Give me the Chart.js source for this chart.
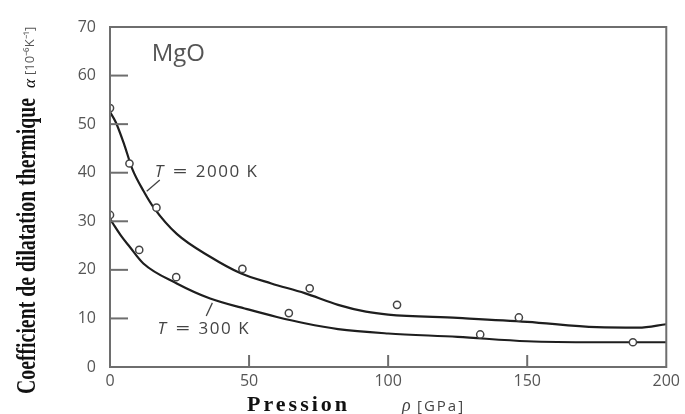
<!DOCTYPE html>
<html>
<head>
<meta charset="utf-8">
<script src="https://cdn.jsdelivr.net/npm/chart.js@4"></script>
<style>
  html, body { margin: 0; padding: 0; background: #fff; }
  #wrap { width: 685px; height: 414px; }
</style>
</head>
<body>
<div id="wrap"><canvas id="chart" width="685" height="414"></canvas></div>
<script>
// MgO: thermal expansion coefficient vs pressure, two isotherms
const xTicks = [0, 50, 100, 150, 200];
const yTicks = [0, 10, 20, 30, 40, 50, 60, 70];

// fitted curves (GPa, 1e-6/K)
const hotCurveP  = [0, 2, 5, 8, 12, 16, 24, 36, 47, 58, 70, 82, 92, 100, 125, 150, 175, 190, 200];
const hotCurveA  = [52.5, 50.5, 46, 40.8, 36.3, 32.6, 27.4, 22.7, 19.3, 17.2, 15.2, 12.8, 11.4, 10.8, 10.1, 9.3, 8.2, 8.1, 8.8];
const coldCurveP = [0, 1, 4, 7, 12, 24, 36, 50, 60, 70, 82, 100, 125, 150, 175, 200];
const coldCurveA = [30.5, 29.6, 27, 24.8, 21.3, 17.2, 14.1, 11.8, 10.3, 9.0, 7.8, 6.9, 6.2, 5.3, 5.1, 5.1];

// measured values
const hotP  = [0, 7, 16.7, 47.6, 71.8, 103.2, 147];
const hotA  = [53.3, 41.9, 32.8, 20.2, 16.2, 12.8, 10.2];
const coldP = [0, 10.5, 23.8, 64.3, 133.1, 188];
const coldA = [31.3, 24.1, 18.5, 11.1, 6.7, 5.1];

const pairs = (xs, ys) => xs.map((x, i) => ({ x, y: ys[i] }));

const tickFont = { family: '"Open Sans", sans-serif', size: 16 };

function line(ctx, x1, y1, x2, y2) {
    ctx.beginPath();
    ctx.moveTo(x1, y1);
    ctx.lineTo(x2, y2);
    ctx.stroke();
}

// "T = ... K" label with a short leader line
function isoLabel(ctx, x, y, at, lead, text) {
    const px = x.getPixelForValue(at[0]);
    const py = y.getPixelForValue(at[1]);
    ctx.fillStyle = '#444';
    ctx.font = 'italic 17px "Open Sans", sans-serif';
    ctx.fillText('T', px, py);
    ctx.font = '17px "Open Sans", sans-serif';
    ctx.save();
    ctx.translate(px + 18, py);
    ctx.scale(1.5, 1);
    ctx.fillText('=', 0, 0);
    ctx.restore();
    ctx.letterSpacing = '1.5px';
    ctx.fillText(text, px + 41, py);
    ctx.letterSpacing = '0px';
    ctx.strokeStyle = '#444';
    ctx.lineWidth = 1.3;
    line(ctx, x.getPixelForValue(lead[0]), y.getPixelForValue(lead[1]),
        x.getPixelForValue(lead[2]), y.getPixelForValue(lead[3]));
}

const framePlugin = {
    id: 'frame',
    afterDraw(chart) {
        const { ctx, chartArea: a, scales: { x, y } } = chart;
        ctx.save();

        // box and inward ticks
        ctx.strokeStyle = '#6e6e6e';
        ctx.lineWidth = 2;
        ctx.strokeRect(a.left, a.top, a.right - a.left, a.bottom - a.top);
        yTicks.slice(1, -1).forEach(v => {
            const py = y.getPixelForValue(v);
            line(ctx, a.left, py, a.left + 18, py);
        });
        xTicks.slice(1, -1).forEach(v => {
            const px = x.getPixelForValue(v);
            line(ctx, px, a.bottom, px, a.bottom - 12);
        });

        // substance name
        ctx.fillStyle = '#555';
        ctx.font = '24px "Open Sans", sans-serif';
        ctx.fillText('MgO', x.getPixelForValue(15), y.getPixelForValue(63));

        isoLabel(ctx, x, y, [16.1, 39.1], [13.2, 36.2, 17.9, 38.5], '2000 K');
        isoLabel(ctx, x, y, [17.1, 6.8], [34.6, 10.5, 36.8, 13.2], '300 K');

        // y axis title
        ctx.save();
        ctx.translate(35, 394);
        ctx.rotate(-Math.PI / 2);
        ctx.fillStyle = '#111';
        ctx.font = 'bold 27px "Liberation Serif", serif';
        const main = 'Coefficient de dilatation thermique';
        const w = ctx.measureText(main).width;
        ctx.save();
        ctx.scale(296 / w, 1);
        ctx.fillText(main, 0, 0);
        ctx.restore();
        ctx.font = 'italic 17px "Liberation Serif", serif';
        ctx.fillText('α', 306, 0);
        ctx.fillStyle = '#555';
        ctx.font = '13px "Open Sans", sans-serif';
        ctx.fillText('[10⁻⁶K⁻¹]', 319, -1);
        ctx.restore();

        // x axis title
        ctx.fillStyle = '#111';
        ctx.font = 'bold 22px "Liberation Serif", serif';
        ctx.letterSpacing = '3px';
        ctx.fillText('Pression', 247, 411);
        ctx.letterSpacing = '0px';
        ctx.font = 'italic 18px "Liberation Serif", serif';
        ctx.fillStyle = '#444';
        ctx.fillText('ρ', 402, 411);
        ctx.font = '15px "Open Sans", sans-serif';
        ctx.letterSpacing = '2px';
        ctx.fillText('[GPa]', 417, 411);

        ctx.restore();
    }
};

const pointStyle = {
    type: 'line',
    showLine: false,
    pointRadius: 3.6,
    pointBorderWidth: 1.5,
    pointBorderColor: '#444',
    pointBackgroundColor: '#fff'
};
const curveStyle = {
    type: 'line',
    borderColor: '#1e1e1e',
    borderWidth: 2.2,
    pointRadius: 0,
    cubicInterpolationMode: 'monotone',
    fill: false
};

new Chart(document.getElementById('chart'), {
    type: 'line',
    data: {
        datasets: [
            { ...pointStyle, label: 'T = 2000 K (mesures)', data: pairs(hotP, hotA) },
            { ...pointStyle, label: 'T = 300 K (mesures)', data: pairs(coldP, coldA) },
            { ...curveStyle, label: 'T = 2000 K', data: pairs(hotCurveP, hotCurveA) },
            { ...curveStyle, label: 'T = 300 K', data: pairs(coldCurveP, coldCurveA) }
        ]
    },
    options: {
        responsive: false,
        animation: false,
        layout: { padding: { top: 27, right: 15, left: 0, bottom: 0 } },
        plugins: { legend: { display: false }, tooltip: { enabled: false } },
        scales: {
            x: {
                type: 'linear',
                min: 0,
                max: 200,
                grid: { display: false, drawTicks: false },
                border: { display: false },
                ticks: { stepSize: 50, color: '#555', font: tickFont, padding: 5, maxRotation: 0 },
                afterFit(s) { s.height = 47; }
            },
            y: {
                min: 0,
                max: 70,
                grid: { display: false, drawTicks: false },
                border: { display: false },
                ticks: { stepSize: 10, color: '#555', font: tickFont, padding: 14 },
                afterFit(s) { s.width = 110; }
            }
        }
    },
    plugins: [framePlugin]
});
</script>
</body>
</html>
